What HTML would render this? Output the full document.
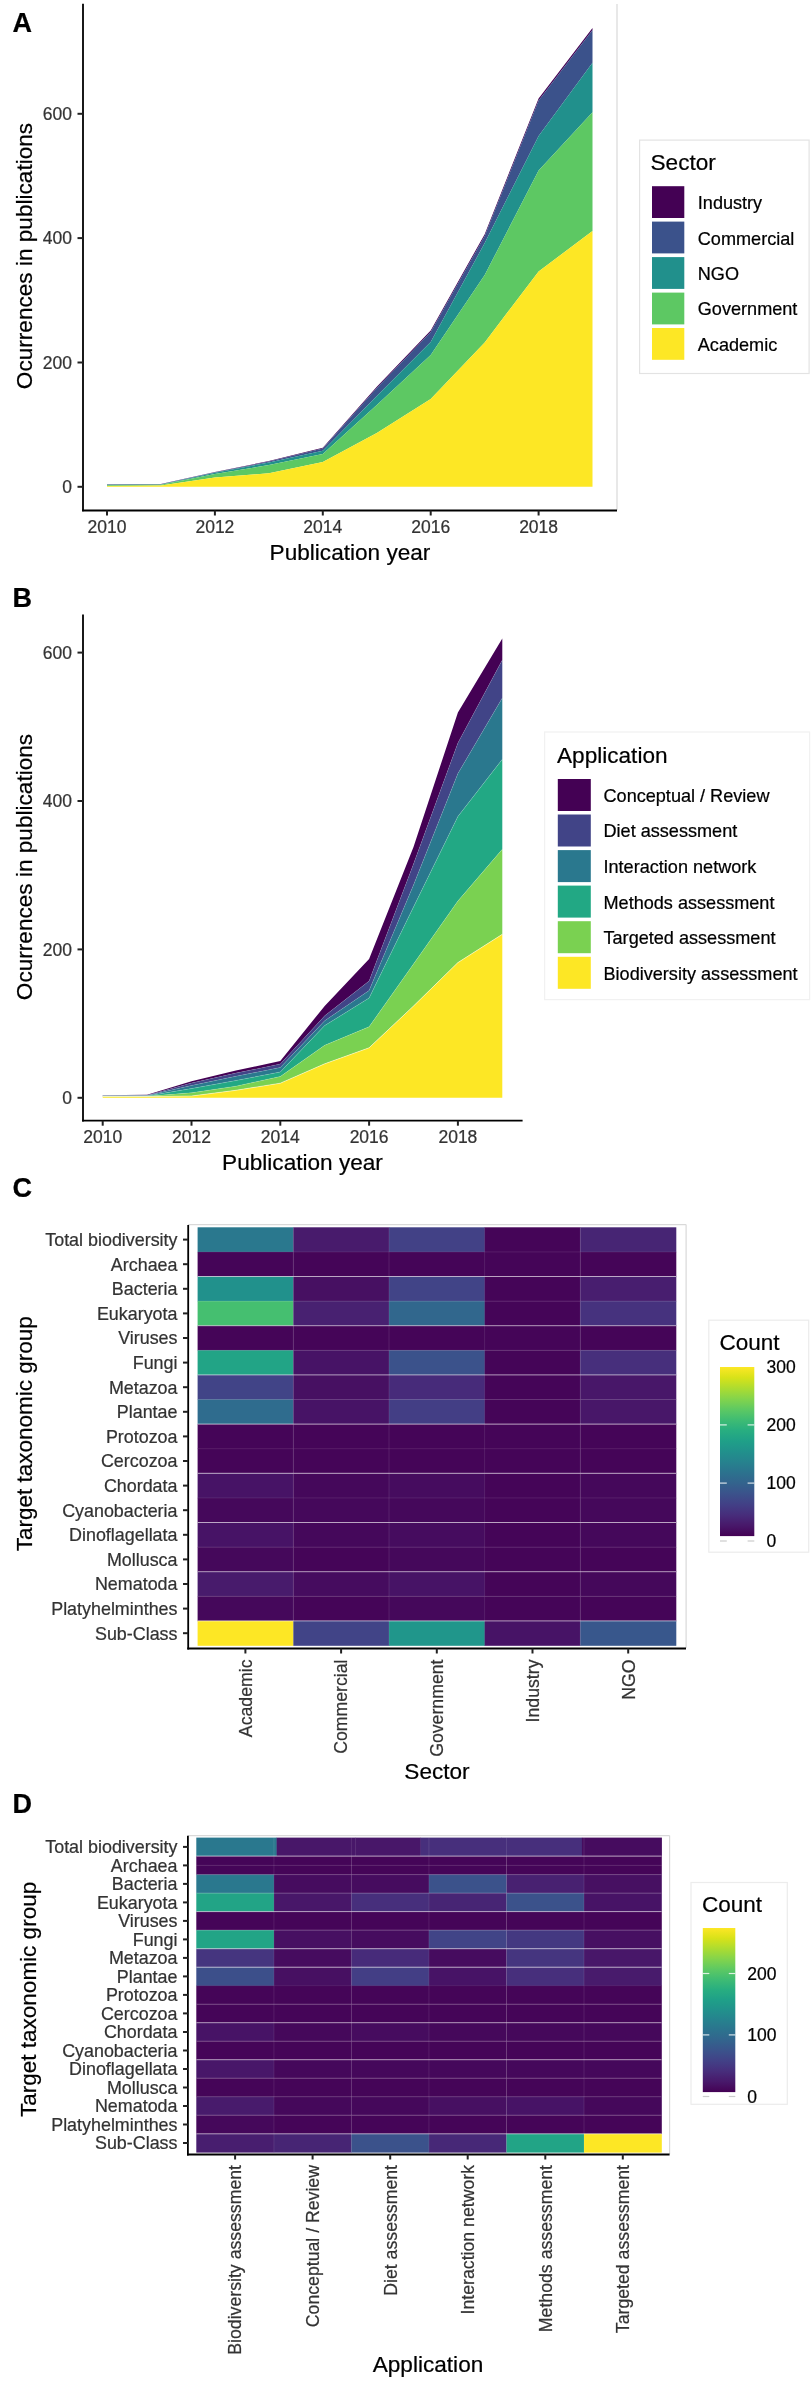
<!DOCTYPE html>
<html><head><meta charset="utf-8"><title>Figure</title>
<style>html,body{margin:0;padding:0;background:#fff;}svg{display:block;will-change:transform;}text{stroke-width:0.22px;}</style></head>
<body><svg width="812" height="2381" viewBox="0 0 812 2381" font-family="Liberation Sans, sans-serif">
<rect x="0" y="0" width="812" height="2381" fill="#fff"/>
<text x="12.5" y="32.3" font-size="27" font-weight="bold" fill="#000" stroke="#000">A</text>
<text x="12.5" y="606.6" font-size="27" font-weight="bold" fill="#000" stroke="#000">B</text>
<text x="12.5" y="1196.5" font-size="27" font-weight="bold" fill="#000" stroke="#000">C</text>
<text x="12.5" y="1813.2" font-size="27" font-weight="bold" fill="#000" stroke="#000">D</text>
<polygon points="107.0,484.2 160.9,484.0 214.9,472.0 268.9,461.0 322.8,447.8 376.8,386.8 430.7,330.4 484.7,234.2 538.6,98.6 592.5,27.9 592.5,30.0 538.6,100.5 484.7,236.0 430.7,332.0 376.8,388.0 322.8,448.5 268.9,461.6 214.9,472.3 160.9,484.2 107.0,484.5" fill="#440154" />
<polygon points="107.0,484.5 160.9,484.2 214.9,472.3 268.9,461.6 322.8,448.5 376.8,388.0 430.7,332.0 484.7,236.0 538.6,100.5 592.5,30.0 592.5,62.8 538.6,136.0 484.7,243.0 430.7,342.0 376.8,396.0 322.8,450.7 268.9,462.5 214.9,472.8 160.9,484.5 107.0,484.8" fill="#3b528b" />
<polygon points="107.0,484.8 160.9,484.5 214.9,472.8 268.9,462.5 322.8,450.7 376.8,396.0 430.7,342.0 484.7,243.0 538.6,136.0 592.5,62.8 592.5,112.2 538.6,170.5 484.7,275.0 430.7,355.0 376.8,405.0 322.8,454.0 268.9,465.0 214.9,474.0 160.9,484.8 107.0,485.2" fill="#21908c" />
<polygon points="107.0,485.2 160.9,484.8 214.9,474.0 268.9,465.0 322.8,454.0 376.8,405.0 430.7,355.0 484.7,275.0 538.6,170.5 592.5,112.2 592.5,231.0 538.6,271.5 484.7,342.4 430.7,399.0 376.8,433.0 322.8,462.0 268.9,473.2 214.9,477.6 160.9,485.6 107.0,486.0" fill="#5dc863" />
<polygon points="107.0,486.0 160.9,485.6 214.9,477.6 268.9,473.2 322.8,462.0 376.8,433.0 430.7,399.0 484.7,342.4 538.6,271.5 592.5,231.0 592.5,486.8 107.0,486.8" fill="#fde725" />
<line x1="617" y1="4" x2="617" y2="510" stroke="#d9d9d9" stroke-width="1.2"/>
<line x1="83" y1="3.7" x2="83" y2="511.3" stroke="#000" stroke-width="1.8"/>
<line x1="82.1" y1="510.5" x2="617" y2="510.5" stroke="#000" stroke-width="1.8"/>
<line x1="77.5" y1="486.8" x2="83" y2="486.8" stroke="#222222" stroke-width="2"/>
<text x="72" y="492.9" font-size="17.5" fill="#333333" stroke="#333333" text-anchor="end">0</text>
<line x1="77.5" y1="362.5" x2="83" y2="362.5" stroke="#222222" stroke-width="2"/>
<text x="72" y="368.6" font-size="17.5" fill="#333333" stroke="#333333" text-anchor="end">200</text>
<line x1="77.5" y1="238.1" x2="83" y2="238.1" stroke="#222222" stroke-width="2"/>
<text x="72" y="244.2" font-size="17.5" fill="#333333" stroke="#333333" text-anchor="end">400</text>
<line x1="77.5" y1="113.8" x2="83" y2="113.8" stroke="#222222" stroke-width="2"/>
<text x="72" y="119.9" font-size="17.5" fill="#333333" stroke="#333333" text-anchor="end">600</text>
<line x1="107.0" y1="510.5" x2="107.0" y2="515.5" stroke="#222222" stroke-width="2"/>
<text x="107.0" y="533.3" font-size="17.5" fill="#333333" stroke="#333333" text-anchor="middle">2010</text>
<line x1="214.9" y1="510.5" x2="214.9" y2="515.5" stroke="#222222" stroke-width="2"/>
<text x="214.9" y="533.3" font-size="17.5" fill="#333333" stroke="#333333" text-anchor="middle">2012</text>
<line x1="322.8" y1="510.5" x2="322.8" y2="515.5" stroke="#222222" stroke-width="2"/>
<text x="322.8" y="533.3" font-size="17.5" fill="#333333" stroke="#333333" text-anchor="middle">2014</text>
<line x1="430.7" y1="510.5" x2="430.7" y2="515.5" stroke="#222222" stroke-width="2"/>
<text x="430.7" y="533.3" font-size="17.5" fill="#333333" stroke="#333333" text-anchor="middle">2016</text>
<line x1="538.6" y1="510.5" x2="538.6" y2="515.5" stroke="#222222" stroke-width="2"/>
<text x="538.6" y="533.3" font-size="17.5" fill="#333333" stroke="#333333" text-anchor="middle">2018</text>
<text x="350" y="560" font-size="22.6" fill="#000" stroke="#000" text-anchor="middle">Publication year</text>
<text transform="translate(31.9,256) rotate(-90)" x="0" y="0" font-size="22.6" fill="#000" stroke="#000" text-anchor="middle">Ocurrences in publications</text>
<rect x="639.6" y="140.1" width="169.5" height="233.4" fill="#fff" stroke="#e3e3e3" stroke-width="1.2"/>
<text x="650.5" y="170.4" font-size="22.6" fill="#000" stroke="#000">Sector</text>
<rect x="652" y="186.2" width="32.3" height="31.8" fill="#440154"/>
<text x="697.8" y="209.1" font-size="18.1" fill="#000" stroke="#000">Industry</text>
<rect x="652" y="221.6" width="32.3" height="31.8" fill="#3b528b"/>
<text x="697.8" y="244.5" font-size="18.1" fill="#000" stroke="#000">Commercial</text>
<rect x="652" y="257.1" width="32.3" height="31.8" fill="#21908c"/>
<text x="697.8" y="280.0" font-size="18.1" fill="#000" stroke="#000">NGO</text>
<rect x="652" y="292.6" width="32.3" height="31.8" fill="#5dc863"/>
<text x="697.8" y="315.4" font-size="18.1" fill="#000" stroke="#000">Government</text>
<rect x="652" y="328.0" width="32.3" height="31.8" fill="#fde725"/>
<text x="697.8" y="350.9" font-size="18.1" fill="#000" stroke="#000">Academic</text>
<polygon points="102.7,1095.3 147.1,1094.8 191.5,1081.2 235.9,1070.6 280.3,1061.0 324.7,1005.9 369.1,959.0 413.5,847.0 457.9,712.5 502.3,638.4 502.3,660.0 457.9,742.9 413.5,864.0 369.1,981.0 324.7,1015.8 280.3,1064.0 235.9,1073.1 191.5,1083.0 147.1,1095.3 102.7,1095.6" fill="#440154" />
<polygon points="102.7,1095.6 147.1,1095.3 191.5,1083.0 235.9,1073.1 280.3,1064.0 324.7,1015.8 369.1,981.0 413.5,864.0 457.9,742.9 502.3,660.0 502.3,697.9 457.9,773.6 413.5,885.0 369.1,990.6 324.7,1020.7 280.3,1067.5 235.9,1076.3 191.5,1085.4 147.1,1095.6 102.7,1095.8" fill="#414487" />
<polygon points="102.7,1095.8 147.1,1095.6 191.5,1085.4 235.9,1076.3 280.3,1067.5 324.7,1020.7 369.1,990.6 413.5,885.0 457.9,773.6 502.3,697.9 502.3,759.3 457.9,816.4 413.5,907.0 369.1,998.0 324.7,1025.6 280.3,1072.0 235.9,1080.5 191.5,1088.6 147.1,1095.9 102.7,1096.0" fill="#2a788e" />
<polygon points="102.7,1096.0 147.1,1095.9 191.5,1088.6 235.9,1080.5 280.3,1072.0 324.7,1025.6 369.1,998.0 413.5,907.0 457.9,816.4 502.3,759.3 502.3,849.3 457.9,901.0 413.5,964.0 369.1,1026.8 324.7,1045.3 280.3,1076.5 235.9,1086.2 191.5,1092.8 147.1,1096.2 102.7,1096.2" fill="#22a884" />
<polygon points="102.7,1096.2 147.1,1096.2 191.5,1092.8 235.9,1086.2 280.3,1076.5 324.7,1045.3 369.1,1026.8 413.5,964.0 457.9,901.0 502.3,849.3 502.3,934.3 457.9,962.6 413.5,1006.0 369.1,1047.8 324.7,1063.8 280.3,1083.2 235.9,1090.3 191.5,1096.0 147.1,1096.5 102.7,1096.5" fill="#7ad151" />
<polygon points="102.7,1096.5 147.1,1096.5 191.5,1096.0 235.9,1090.3 280.3,1083.2 324.7,1063.8 369.1,1047.8 413.5,1006.0 457.9,962.6 502.3,934.3 502.3,1097.8 102.7,1097.8" fill="#fde725" />
<polyline points="102.7,1095.6 147.1,1095.3 191.5,1083.0 235.9,1073.1 280.3,1064.0 324.7,1015.8 369.1,981.0 413.5,864.0 457.9,742.9 502.3,660.0" fill="none" stroke="#ffffff" stroke-opacity="0.12" stroke-width="0.8"/>
<polyline points="102.7,1095.8 147.1,1095.6 191.5,1085.4 235.9,1076.3 280.3,1067.5 324.7,1020.7 369.1,990.6 413.5,885.0 457.9,773.6 502.3,697.9" fill="none" stroke="#ffffff" stroke-opacity="0.15" stroke-width="0.8"/>
<polyline points="102.7,1096.0 147.1,1095.9 191.5,1088.6 235.9,1080.5 280.3,1072.0 324.7,1025.6 369.1,998.0 413.5,907.0 457.9,816.4 502.3,759.3" fill="none" stroke="#ffffff" stroke-opacity="0.2" stroke-width="0.8"/>
<polyline points="102.7,1096.2 147.1,1096.2 191.5,1092.8 235.9,1086.2 280.3,1076.5 324.7,1045.3 369.1,1026.8 413.5,964.0 457.9,901.0 502.3,849.3" fill="none" stroke="#ffffff" stroke-opacity="0.2" stroke-width="0.8"/>
<polyline points="102.7,1096.5 147.1,1096.5 191.5,1096.0 235.9,1090.3 280.3,1083.2 324.7,1063.8 369.1,1047.8 413.5,1006.0 457.9,962.6 502.3,934.3" fill="none" stroke="#ffffff" stroke-opacity="0.6" stroke-width="0.8"/>
<line x1="83" y1="614.5" x2="83" y2="1121.6" stroke="#000" stroke-width="1.8"/>
<line x1="82.1" y1="1120.7" x2="522.6" y2="1120.7" stroke="#000" stroke-width="1.8"/>
<line x1="77.5" y1="1097.8" x2="83" y2="1097.8" stroke="#222222" stroke-width="2"/>
<text x="72" y="1103.9" font-size="17.5" fill="#333333" stroke="#333333" text-anchor="end">0</text>
<line x1="77.5" y1="949.4" x2="83" y2="949.4" stroke="#222222" stroke-width="2"/>
<text x="72" y="955.5" font-size="17.5" fill="#333333" stroke="#333333" text-anchor="end">200</text>
<line x1="77.5" y1="801.0" x2="83" y2="801.0" stroke="#222222" stroke-width="2"/>
<text x="72" y="807.1" font-size="17.5" fill="#333333" stroke="#333333" text-anchor="end">400</text>
<line x1="77.5" y1="652.6" x2="83" y2="652.6" stroke="#222222" stroke-width="2"/>
<text x="72" y="658.7" font-size="17.5" fill="#333333" stroke="#333333" text-anchor="end">600</text>
<line x1="102.7" y1="1120.7" x2="102.7" y2="1125.7" stroke="#222222" stroke-width="2"/>
<text x="102.7" y="1143.4" font-size="17.5" fill="#333333" stroke="#333333" text-anchor="middle">2010</text>
<line x1="191.5" y1="1120.7" x2="191.5" y2="1125.7" stroke="#222222" stroke-width="2"/>
<text x="191.5" y="1143.4" font-size="17.5" fill="#333333" stroke="#333333" text-anchor="middle">2012</text>
<line x1="280.3" y1="1120.7" x2="280.3" y2="1125.7" stroke="#222222" stroke-width="2"/>
<text x="280.3" y="1143.4" font-size="17.5" fill="#333333" stroke="#333333" text-anchor="middle">2014</text>
<line x1="369.1" y1="1120.7" x2="369.1" y2="1125.7" stroke="#222222" stroke-width="2"/>
<text x="369.1" y="1143.4" font-size="17.5" fill="#333333" stroke="#333333" text-anchor="middle">2016</text>
<line x1="457.9" y1="1120.7" x2="457.9" y2="1125.7" stroke="#222222" stroke-width="2"/>
<text x="457.9" y="1143.4" font-size="17.5" fill="#333333" stroke="#333333" text-anchor="middle">2018</text>
<text x="302.5" y="1170" font-size="22.6" fill="#000" stroke="#000" text-anchor="middle">Publication year</text>
<text transform="translate(31.9,867) rotate(-90)" x="0" y="0" font-size="22.6" fill="#000" stroke="#000" text-anchor="middle">Ocurrences in publications</text>
<rect x="544.6" y="732" width="265" height="267.6" fill="#fff" stroke="#f1f1f1" stroke-width="1.2"/>
<text x="557" y="763.4" font-size="22.6" fill="#000" stroke="#000">Application</text>
<rect x="557.8" y="779.0" width="33" height="32" fill="#440154"/>
<text x="603.5" y="801.9" font-size="18.1" fill="#000" stroke="#000">Conceptual / Review</text>
<rect x="557.8" y="814.5" width="33" height="32" fill="#414487"/>
<text x="603.5" y="837.4" font-size="18.1" fill="#000" stroke="#000">Diet assessment</text>
<rect x="557.8" y="850.1" width="33" height="32" fill="#2a788e"/>
<text x="603.5" y="873.0" font-size="18.1" fill="#000" stroke="#000">Interaction network</text>
<rect x="557.8" y="885.6" width="33" height="32" fill="#22a884"/>
<text x="603.5" y="908.5" font-size="18.1" fill="#000" stroke="#000">Methods assessment</text>
<rect x="557.8" y="921.2" width="33" height="32" fill="#7ad151"/>
<text x="603.5" y="944.1" font-size="18.1" fill="#000" stroke="#000">Targeted assessment</text>
<rect x="557.8" y="956.8" width="33" height="32" fill="#fde725"/>
<text x="603.5" y="979.6" font-size="18.1" fill="#000" stroke="#000">Biodiversity assessment</text>
<line x1="188" y1="1224.6" x2="686.1" y2="1224.6" stroke="#d9d9d9" stroke-width="1.2"/>
<line x1="686.1" y1="1224.6" x2="686.1" y2="1648" stroke="#d9d9d9" stroke-width="1.2"/>
<rect x="197.6" y="1227.3" width="96.0" height="24.9" fill="#2a788e"/>
<rect x="293.3" y="1227.3" width="96.0" height="24.9" fill="#481b6c"/>
<rect x="389.0" y="1227.3" width="96.0" height="24.9" fill="#424186"/>
<rect x="484.6" y="1227.3" width="96.0" height="24.9" fill="#450558"/>
<rect x="580.3" y="1227.3" width="96.0" height="24.9" fill="#472574"/>
<rect x="197.6" y="1251.9" width="96.0" height="24.9" fill="#450558"/>
<rect x="293.3" y="1251.9" width="96.0" height="24.9" fill="#450558"/>
<rect x="389.0" y="1251.9" width="96.0" height="24.9" fill="#450558"/>
<rect x="484.6" y="1251.9" width="96.0" height="24.9" fill="#450558"/>
<rect x="580.3" y="1251.9" width="96.0" height="24.9" fill="#450558"/>
<rect x="197.6" y="1276.5" width="96.0" height="24.9" fill="#21918c"/>
<rect x="293.3" y="1276.5" width="96.0" height="24.9" fill="#471062"/>
<rect x="389.0" y="1276.5" width="96.0" height="24.9" fill="#414487"/>
<rect x="484.6" y="1276.5" width="96.0" height="24.9" fill="#450558"/>
<rect x="580.3" y="1276.5" width="96.0" height="24.9" fill="#481e6f"/>
<rect x="197.6" y="1301.1" width="96.0" height="24.9" fill="#45bf70"/>
<rect x="293.3" y="1301.1" width="96.0" height="24.9" fill="#482171"/>
<rect x="389.0" y="1301.1" width="96.0" height="24.9" fill="#31678d"/>
<rect x="484.6" y="1301.1" width="96.0" height="24.9" fill="#450558"/>
<rect x="580.3" y="1301.1" width="96.0" height="24.9" fill="#46327e"/>
<rect x="197.6" y="1325.7" width="96.0" height="24.9" fill="#450558"/>
<rect x="293.3" y="1325.7" width="96.0" height="24.9" fill="#450558"/>
<rect x="389.0" y="1325.7" width="96.0" height="24.9" fill="#450558"/>
<rect x="484.6" y="1325.7" width="96.0" height="24.9" fill="#450558"/>
<rect x="580.3" y="1325.7" width="96.0" height="24.9" fill="#450558"/>
<rect x="197.6" y="1350.3" width="96.0" height="24.9" fill="#22a486"/>
<rect x="293.3" y="1350.3" width="96.0" height="24.9" fill="#471366"/>
<rect x="389.0" y="1350.3" width="96.0" height="24.9" fill="#3b528b"/>
<rect x="484.6" y="1350.3" width="96.0" height="24.9" fill="#450558"/>
<rect x="580.3" y="1350.3" width="96.0" height="24.9" fill="#472f7c"/>
<rect x="197.6" y="1374.9" width="96.0" height="24.9" fill="#414487"/>
<rect x="293.3" y="1374.9" width="96.0" height="24.9" fill="#471062"/>
<rect x="389.0" y="1374.9" width="96.0" height="24.9" fill="#472b7a"/>
<rect x="484.6" y="1374.9" width="96.0" height="24.9" fill="#450558"/>
<rect x="580.3" y="1374.9" width="96.0" height="24.9" fill="#481769"/>
<rect x="197.6" y="1399.5" width="96.0" height="24.9" fill="#2f6c8e"/>
<rect x="293.3" y="1399.5" width="96.0" height="24.9" fill="#471366"/>
<rect x="389.0" y="1399.5" width="96.0" height="24.9" fill="#433e85"/>
<rect x="484.6" y="1399.5" width="96.0" height="24.9" fill="#450558"/>
<rect x="580.3" y="1399.5" width="96.0" height="24.9" fill="#481769"/>
<rect x="197.6" y="1424.1" width="96.0" height="24.9" fill="#450558"/>
<rect x="293.3" y="1424.1" width="96.0" height="24.9" fill="#450558"/>
<rect x="389.0" y="1424.1" width="96.0" height="24.9" fill="#450558"/>
<rect x="484.6" y="1424.1" width="96.0" height="24.9" fill="#450558"/>
<rect x="580.3" y="1424.1" width="96.0" height="24.9" fill="#450558"/>
<rect x="197.6" y="1448.7" width="96.0" height="24.9" fill="#450558"/>
<rect x="293.3" y="1448.7" width="96.0" height="24.9" fill="#450558"/>
<rect x="389.0" y="1448.7" width="96.0" height="24.9" fill="#450558"/>
<rect x="484.6" y="1448.7" width="96.0" height="24.9" fill="#450558"/>
<rect x="580.3" y="1448.7" width="96.0" height="24.9" fill="#450558"/>
<rect x="197.6" y="1473.3" width="96.0" height="24.9" fill="#471366"/>
<rect x="293.3" y="1473.3" width="96.0" height="24.9" fill="#45085b"/>
<rect x="389.0" y="1473.3" width="96.0" height="24.9" fill="#460c5f"/>
<rect x="484.6" y="1473.3" width="96.0" height="24.9" fill="#450558"/>
<rect x="580.3" y="1473.3" width="96.0" height="24.9" fill="#45085b"/>
<rect x="197.6" y="1497.9" width="96.0" height="24.9" fill="#45085b"/>
<rect x="293.3" y="1497.9" width="96.0" height="24.9" fill="#45085b"/>
<rect x="389.0" y="1497.9" width="96.0" height="24.9" fill="#45085b"/>
<rect x="484.6" y="1497.9" width="96.0" height="24.9" fill="#450558"/>
<rect x="580.3" y="1497.9" width="96.0" height="24.9" fill="#45085b"/>
<rect x="197.6" y="1522.5" width="96.0" height="24.9" fill="#471366"/>
<rect x="293.3" y="1522.5" width="96.0" height="24.9" fill="#45085b"/>
<rect x="389.0" y="1522.5" width="96.0" height="24.9" fill="#460c5f"/>
<rect x="484.6" y="1522.5" width="96.0" height="24.9" fill="#450558"/>
<rect x="580.3" y="1522.5" width="96.0" height="24.9" fill="#45085b"/>
<rect x="197.6" y="1547.1" width="96.0" height="24.9" fill="#45085b"/>
<rect x="293.3" y="1547.1" width="96.0" height="24.9" fill="#450558"/>
<rect x="389.0" y="1547.1" width="96.0" height="24.9" fill="#45085b"/>
<rect x="484.6" y="1547.1" width="96.0" height="24.9" fill="#450558"/>
<rect x="580.3" y="1547.1" width="96.0" height="24.9" fill="#450558"/>
<rect x="197.6" y="1571.7" width="96.0" height="24.9" fill="#481b6c"/>
<rect x="293.3" y="1571.7" width="96.0" height="24.9" fill="#460c5f"/>
<rect x="389.0" y="1571.7" width="96.0" height="24.9" fill="#471366"/>
<rect x="484.6" y="1571.7" width="96.0" height="24.9" fill="#450558"/>
<rect x="580.3" y="1571.7" width="96.0" height="24.9" fill="#45085b"/>
<rect x="197.6" y="1596.3" width="96.0" height="24.9" fill="#45085b"/>
<rect x="293.3" y="1596.3" width="96.0" height="24.9" fill="#450558"/>
<rect x="389.0" y="1596.3" width="96.0" height="24.9" fill="#45085b"/>
<rect x="484.6" y="1596.3" width="96.0" height="24.9" fill="#450558"/>
<rect x="580.3" y="1596.3" width="96.0" height="24.9" fill="#450558"/>
<rect x="197.6" y="1620.9" width="96.0" height="24.9" fill="#fde725"/>
<rect x="293.3" y="1620.9" width="96.0" height="24.9" fill="#414487"/>
<rect x="389.0" y="1620.9" width="96.0" height="24.9" fill="#20968b"/>
<rect x="484.6" y="1620.9" width="96.0" height="24.9" fill="#471366"/>
<rect x="580.3" y="1620.9" width="96.0" height="24.9" fill="#38578c"/>
<line x1="197.6" y1="1251.9" x2="676.0" y2="1251.9" stroke="#fff" stroke-opacity="0.1" stroke-width="1"/>
<line x1="197.6" y1="1276.5" x2="676.0" y2="1276.5" stroke="#fff" stroke-opacity="0.6" stroke-width="1"/>
<line x1="197.6" y1="1301.1" x2="676.0" y2="1301.1" stroke="#fff" stroke-opacity="0.1" stroke-width="1"/>
<line x1="197.6" y1="1325.7" x2="676.0" y2="1325.7" stroke="#fff" stroke-opacity="0.6" stroke-width="1"/>
<line x1="197.6" y1="1350.3" x2="676.0" y2="1350.3" stroke="#fff" stroke-opacity="0.1" stroke-width="1"/>
<line x1="197.6" y1="1374.9" x2="676.0" y2="1374.9" stroke="#fff" stroke-opacity="0.6" stroke-width="1"/>
<line x1="197.6" y1="1399.5" x2="676.0" y2="1399.5" stroke="#fff" stroke-opacity="0.1" stroke-width="1"/>
<line x1="197.6" y1="1424.1" x2="676.0" y2="1424.1" stroke="#fff" stroke-opacity="0.6" stroke-width="1"/>
<line x1="197.6" y1="1448.7" x2="676.0" y2="1448.7" stroke="#fff" stroke-opacity="0.1" stroke-width="1"/>
<line x1="197.6" y1="1473.3" x2="676.0" y2="1473.3" stroke="#fff" stroke-opacity="0.6" stroke-width="1"/>
<line x1="197.6" y1="1497.9" x2="676.0" y2="1497.9" stroke="#fff" stroke-opacity="0.1" stroke-width="1"/>
<line x1="197.6" y1="1522.5" x2="676.0" y2="1522.5" stroke="#fff" stroke-opacity="0.6" stroke-width="1"/>
<line x1="197.6" y1="1547.1" x2="676.0" y2="1547.1" stroke="#fff" stroke-opacity="0.1" stroke-width="1"/>
<line x1="197.6" y1="1571.7" x2="676.0" y2="1571.7" stroke="#fff" stroke-opacity="0.6" stroke-width="1"/>
<line x1="197.6" y1="1596.3" x2="676.0" y2="1596.3" stroke="#fff" stroke-opacity="0.1" stroke-width="1"/>
<line x1="197.6" y1="1620.9" x2="676.0" y2="1620.9" stroke="#fff" stroke-opacity="0.6" stroke-width="1"/>
<line x1="293.3" y1="1227.3" x2="293.3" y2="1645.5" stroke="#fff" stroke-opacity="0.1" stroke-width="1"/>
<line x1="389.0" y1="1227.3" x2="389.0" y2="1645.5" stroke="#fff" stroke-opacity="0.1" stroke-width="1"/>
<line x1="484.6" y1="1227.3" x2="484.6" y2="1645.5" stroke="#fff" stroke-opacity="0.1" stroke-width="1"/>
<line x1="580.3" y1="1227.3" x2="580.3" y2="1645.5" stroke="#fff" stroke-opacity="0.1" stroke-width="1"/>
<line x1="188.2" y1="1225" x2="188.2" y2="1649.4" stroke="#000" stroke-width="1.8"/>
<line x1="187.3" y1="1648.5" x2="686" y2="1648.5" stroke="#000" stroke-width="1.8"/>
<line x1="183" y1="1239.6" x2="188.2" y2="1239.6" stroke="#222222" stroke-width="2"/>
<text x="177.5" y="1245.9" font-size="17.9" fill="#333333" stroke="#333333" text-anchor="end">Total biodiversity</text>
<line x1="183" y1="1264.2" x2="188.2" y2="1264.2" stroke="#222222" stroke-width="2"/>
<text x="177.5" y="1270.5" font-size="17.9" fill="#333333" stroke="#333333" text-anchor="end">Archaea</text>
<line x1="183" y1="1288.8" x2="188.2" y2="1288.8" stroke="#222222" stroke-width="2"/>
<text x="177.5" y="1295.1" font-size="17.9" fill="#333333" stroke="#333333" text-anchor="end">Bacteria</text>
<line x1="183" y1="1313.4" x2="188.2" y2="1313.4" stroke="#222222" stroke-width="2"/>
<text x="177.5" y="1319.7" font-size="17.9" fill="#333333" stroke="#333333" text-anchor="end">Eukaryota</text>
<line x1="183" y1="1338.0" x2="188.2" y2="1338.0" stroke="#222222" stroke-width="2"/>
<text x="177.5" y="1344.3" font-size="17.9" fill="#333333" stroke="#333333" text-anchor="end">Viruses</text>
<line x1="183" y1="1362.6" x2="188.2" y2="1362.6" stroke="#222222" stroke-width="2"/>
<text x="177.5" y="1368.9" font-size="17.9" fill="#333333" stroke="#333333" text-anchor="end">Fungi</text>
<line x1="183" y1="1387.2" x2="188.2" y2="1387.2" stroke="#222222" stroke-width="2"/>
<text x="177.5" y="1393.5" font-size="17.9" fill="#333333" stroke="#333333" text-anchor="end">Metazoa</text>
<line x1="183" y1="1411.8" x2="188.2" y2="1411.8" stroke="#222222" stroke-width="2"/>
<text x="177.5" y="1418.1" font-size="17.9" fill="#333333" stroke="#333333" text-anchor="end">Plantae</text>
<line x1="183" y1="1436.4" x2="188.2" y2="1436.4" stroke="#222222" stroke-width="2"/>
<text x="177.5" y="1442.7" font-size="17.9" fill="#333333" stroke="#333333" text-anchor="end">Protozoa</text>
<line x1="183" y1="1461.0" x2="188.2" y2="1461.0" stroke="#222222" stroke-width="2"/>
<text x="177.5" y="1467.3" font-size="17.9" fill="#333333" stroke="#333333" text-anchor="end">Cercozoa</text>
<line x1="183" y1="1485.6" x2="188.2" y2="1485.6" stroke="#222222" stroke-width="2"/>
<text x="177.5" y="1491.9" font-size="17.9" fill="#333333" stroke="#333333" text-anchor="end">Chordata</text>
<line x1="183" y1="1510.2" x2="188.2" y2="1510.2" stroke="#222222" stroke-width="2"/>
<text x="177.5" y="1516.5" font-size="17.9" fill="#333333" stroke="#333333" text-anchor="end">Cyanobacteria</text>
<line x1="183" y1="1534.8" x2="188.2" y2="1534.8" stroke="#222222" stroke-width="2"/>
<text x="177.5" y="1541.1" font-size="17.9" fill="#333333" stroke="#333333" text-anchor="end">Dinoflagellata</text>
<line x1="183" y1="1559.4" x2="188.2" y2="1559.4" stroke="#222222" stroke-width="2"/>
<text x="177.5" y="1565.7" font-size="17.9" fill="#333333" stroke="#333333" text-anchor="end">Mollusca</text>
<line x1="183" y1="1584.0" x2="188.2" y2="1584.0" stroke="#222222" stroke-width="2"/>
<text x="177.5" y="1590.3" font-size="17.9" fill="#333333" stroke="#333333" text-anchor="end">Nematoda</text>
<line x1="183" y1="1608.6" x2="188.2" y2="1608.6" stroke="#222222" stroke-width="2"/>
<text x="177.5" y="1614.9" font-size="17.9" fill="#333333" stroke="#333333" text-anchor="end">Platyhelminthes</text>
<line x1="183" y1="1633.2" x2="188.2" y2="1633.2" stroke="#222222" stroke-width="2"/>
<text x="177.5" y="1639.5" font-size="17.9" fill="#333333" stroke="#333333" text-anchor="end">Sub-Class</text>
<line x1="245.4" y1="1648.5" x2="245.4" y2="1653.5" stroke="#222222" stroke-width="2"/>
<text transform="translate(251.7,1659.5) rotate(-90)" x="0" y="0" font-size="17.7" fill="#333333" stroke="#333333" text-anchor="end">Academic</text>
<line x1="341.1" y1="1648.5" x2="341.1" y2="1653.5" stroke="#222222" stroke-width="2"/>
<text transform="translate(347.4,1659.5) rotate(-90)" x="0" y="0" font-size="17.7" fill="#333333" stroke="#333333" text-anchor="end">Commercial</text>
<line x1="436.8" y1="1648.5" x2="436.8" y2="1653.5" stroke="#222222" stroke-width="2"/>
<text transform="translate(443.1,1659.5) rotate(-90)" x="0" y="0" font-size="17.7" fill="#333333" stroke="#333333" text-anchor="end">Government</text>
<line x1="532.5" y1="1648.5" x2="532.5" y2="1653.5" stroke="#222222" stroke-width="2"/>
<text transform="translate(538.8,1659.5) rotate(-90)" x="0" y="0" font-size="17.7" fill="#333333" stroke="#333333" text-anchor="end">Industry</text>
<line x1="628.2" y1="1648.5" x2="628.2" y2="1653.5" stroke="#222222" stroke-width="2"/>
<text transform="translate(634.5,1659.5) rotate(-90)" x="0" y="0" font-size="17.7" fill="#333333" stroke="#333333" text-anchor="end">NGO</text>
<text x="437" y="1779.3" font-size="22.6" fill="#000" stroke="#000" text-anchor="middle">Sector</text>
<text transform="translate(31.7,1433.8) rotate(-90)" x="0" y="0" font-size="22.5" fill="#000" stroke="#000" text-anchor="middle">Target taxonomic group</text>
<defs><linearGradient id="vg" x1="0" y1="1" x2="0" y2="0"><stop offset="0.0000" stop-color="#440154"/><stop offset="0.0625" stop-color="#48186a"/><stop offset="0.1250" stop-color="#472d7b"/><stop offset="0.1875" stop-color="#424086"/><stop offset="0.2500" stop-color="#3b528b"/><stop offset="0.3125" stop-color="#33638d"/><stop offset="0.3750" stop-color="#2c728e"/><stop offset="0.4375" stop-color="#26828e"/><stop offset="0.5000" stop-color="#21918c"/><stop offset="0.5625" stop-color="#1fa088"/><stop offset="0.6250" stop-color="#28ae80"/><stop offset="0.6875" stop-color="#3fbc73"/><stop offset="0.7500" stop-color="#5ec962"/><stop offset="0.8125" stop-color="#84d44b"/><stop offset="0.8750" stop-color="#addc30"/><stop offset="0.9375" stop-color="#d8e219"/><stop offset="1.0000" stop-color="#fde725"/></linearGradient></defs>
<rect x="708.8" y="1320.2" width="99.9" height="232" fill="#fff" stroke="#ececec" stroke-width="1.2"/>
<text x="719.5" y="1350.3" font-size="22.5" fill="#000" stroke="#000">Count</text>
<rect x="720" y="1367" width="34.3" height="169.1" fill="url(#vg)"/>
<line x1="720" y1="1541" x2="726.8" y2="1541" stroke="#ccc" stroke-width="1.2"/>
<line x1="747.6" y1="1541" x2="754.3" y2="1541" stroke="#ccc" stroke-width="1.2"/>
<text x="766.5" y="1547.1" font-size="17.5" fill="#000" stroke="#000">0</text>
<line x1="720" y1="1483.1" x2="726.8" y2="1483.1" stroke="#fff" stroke-opacity="0.8" stroke-width="1.2"/>
<line x1="747.6" y1="1483.1" x2="754.3" y2="1483.1" stroke="#fff" stroke-opacity="0.8" stroke-width="1.2"/>
<text x="766.5" y="1489.2" font-size="17.5" fill="#000" stroke="#000">100</text>
<line x1="720" y1="1424.9" x2="726.8" y2="1424.9" stroke="#fff" stroke-opacity="0.8" stroke-width="1.2"/>
<line x1="747.6" y1="1424.9" x2="754.3" y2="1424.9" stroke="#fff" stroke-opacity="0.8" stroke-width="1.2"/>
<text x="766.5" y="1431.0" font-size="17.5" fill="#000" stroke="#000">200</text>
<text x="766.5" y="1372.9" font-size="17.5" fill="#000" stroke="#000">300</text>
<line x1="188" y1="1835.6" x2="669.6" y2="1835.6" stroke="#d9d9d9" stroke-width="1.2"/>
<line x1="669.6" y1="1835.6" x2="669.6" y2="2154" stroke="#d9d9d9" stroke-width="1.2"/>
<rect x="196.3" y="1837.6" width="80.6" height="18.8" fill="#2a788e"/>
<rect x="276.6" y="1837.6" width="79.2" height="18.8" fill="#481769"/>
<rect x="355.5" y="1837.6" width="65.4" height="18.8" fill="#481769"/>
<rect x="420.6" y="1837.6" width="80.7" height="18.8" fill="#472f7c"/>
<rect x="501.0" y="1837.6" width="81.2" height="18.8" fill="#472f7c"/>
<rect x="581.9" y="1837.6" width="80.0" height="18.8" fill="#460c5f"/>
<rect x="196.3" y="1856.1" width="77.8" height="18.8" fill="#450558"/>
<rect x="273.9" y="1856.1" width="77.8" height="18.8" fill="#450558"/>
<rect x="351.4" y="1856.1" width="77.8" height="18.8" fill="#450558"/>
<rect x="428.9" y="1856.1" width="77.8" height="18.8" fill="#450558"/>
<rect x="506.5" y="1856.1" width="77.8" height="18.8" fill="#450558"/>
<rect x="584.0" y="1856.1" width="77.8" height="18.8" fill="#450558"/>
<rect x="196.3" y="1874.6" width="77.8" height="18.8" fill="#2a788e"/>
<rect x="273.9" y="1874.6" width="77.8" height="18.8" fill="#460c5f"/>
<rect x="351.4" y="1874.6" width="77.8" height="18.8" fill="#460c5f"/>
<rect x="428.9" y="1874.6" width="77.8" height="18.8" fill="#3b528b"/>
<rect x="506.5" y="1874.6" width="77.8" height="18.8" fill="#482171"/>
<rect x="584.0" y="1874.6" width="77.8" height="18.8" fill="#471062"/>
<rect x="196.3" y="1893.1" width="77.8" height="18.8" fill="#22a486"/>
<rect x="273.9" y="1893.1" width="77.8" height="18.8" fill="#481769"/>
<rect x="351.4" y="1893.1" width="77.8" height="18.8" fill="#472f7c"/>
<rect x="428.9" y="1893.1" width="77.8" height="18.8" fill="#472574"/>
<rect x="506.5" y="1893.1" width="77.8" height="18.8" fill="#3b528b"/>
<rect x="584.0" y="1893.1" width="77.8" height="18.8" fill="#471366"/>
<rect x="196.3" y="1911.6" width="77.8" height="18.8" fill="#450558"/>
<rect x="273.9" y="1911.6" width="77.8" height="18.8" fill="#450558"/>
<rect x="351.4" y="1911.6" width="77.8" height="18.8" fill="#450558"/>
<rect x="428.9" y="1911.6" width="77.8" height="18.8" fill="#450558"/>
<rect x="506.5" y="1911.6" width="77.8" height="18.8" fill="#450558"/>
<rect x="584.0" y="1911.6" width="77.8" height="18.8" fill="#450558"/>
<rect x="196.3" y="1930.1" width="77.8" height="18.8" fill="#22a486"/>
<rect x="273.9" y="1930.1" width="77.8" height="18.8" fill="#471062"/>
<rect x="351.4" y="1930.1" width="77.8" height="18.8" fill="#460c5f"/>
<rect x="428.9" y="1930.1" width="77.8" height="18.8" fill="#414487"/>
<rect x="506.5" y="1930.1" width="77.8" height="18.8" fill="#443881"/>
<rect x="584.0" y="1930.1" width="77.8" height="18.8" fill="#471062"/>
<rect x="196.3" y="1948.7" width="77.8" height="18.8" fill="#45357f"/>
<rect x="273.9" y="1948.7" width="77.8" height="18.8" fill="#460c5f"/>
<rect x="351.4" y="1948.7" width="77.8" height="18.8" fill="#472b7a"/>
<rect x="428.9" y="1948.7" width="77.8" height="18.8" fill="#460c5f"/>
<rect x="506.5" y="1948.7" width="77.8" height="18.8" fill="#45357f"/>
<rect x="584.0" y="1948.7" width="77.8" height="18.8" fill="#481769"/>
<rect x="196.3" y="1967.2" width="77.8" height="18.8" fill="#3c4f8a"/>
<rect x="273.9" y="1967.2" width="77.8" height="18.8" fill="#471062"/>
<rect x="351.4" y="1967.2" width="77.8" height="18.8" fill="#433e85"/>
<rect x="428.9" y="1967.2" width="77.8" height="18.8" fill="#471366"/>
<rect x="506.5" y="1967.2" width="77.8" height="18.8" fill="#472f7c"/>
<rect x="584.0" y="1967.2" width="77.8" height="18.8" fill="#481b6c"/>
<rect x="196.3" y="1985.7" width="77.8" height="18.8" fill="#450558"/>
<rect x="273.9" y="1985.7" width="77.8" height="18.8" fill="#450558"/>
<rect x="351.4" y="1985.7" width="77.8" height="18.8" fill="#450558"/>
<rect x="428.9" y="1985.7" width="77.8" height="18.8" fill="#450558"/>
<rect x="506.5" y="1985.7" width="77.8" height="18.8" fill="#450558"/>
<rect x="584.0" y="1985.7" width="77.8" height="18.8" fill="#450558"/>
<rect x="196.3" y="2004.2" width="77.8" height="18.8" fill="#450558"/>
<rect x="273.9" y="2004.2" width="77.8" height="18.8" fill="#450558"/>
<rect x="351.4" y="2004.2" width="77.8" height="18.8" fill="#450558"/>
<rect x="428.9" y="2004.2" width="77.8" height="18.8" fill="#450558"/>
<rect x="506.5" y="2004.2" width="77.8" height="18.8" fill="#450558"/>
<rect x="584.0" y="2004.2" width="77.8" height="18.8" fill="#450558"/>
<rect x="196.3" y="2022.7" width="77.8" height="18.8" fill="#471366"/>
<rect x="273.9" y="2022.7" width="77.8" height="18.8" fill="#45085b"/>
<rect x="351.4" y="2022.7" width="77.8" height="18.8" fill="#460c5f"/>
<rect x="428.9" y="2022.7" width="77.8" height="18.8" fill="#45085b"/>
<rect x="506.5" y="2022.7" width="77.8" height="18.8" fill="#45085b"/>
<rect x="584.0" y="2022.7" width="77.8" height="18.8" fill="#45085b"/>
<rect x="196.3" y="2041.2" width="77.8" height="18.8" fill="#450558"/>
<rect x="273.9" y="2041.2" width="77.8" height="18.8" fill="#450558"/>
<rect x="351.4" y="2041.2" width="77.8" height="18.8" fill="#450558"/>
<rect x="428.9" y="2041.2" width="77.8" height="18.8" fill="#450558"/>
<rect x="506.5" y="2041.2" width="77.8" height="18.8" fill="#450558"/>
<rect x="584.0" y="2041.2" width="77.8" height="18.8" fill="#450558"/>
<rect x="196.3" y="2059.7" width="77.8" height="18.8" fill="#481769"/>
<rect x="273.9" y="2059.7" width="77.8" height="18.8" fill="#45085b"/>
<rect x="351.4" y="2059.7" width="77.8" height="18.8" fill="#45085b"/>
<rect x="428.9" y="2059.7" width="77.8" height="18.8" fill="#45085b"/>
<rect x="506.5" y="2059.7" width="77.8" height="18.8" fill="#45085b"/>
<rect x="584.0" y="2059.7" width="77.8" height="18.8" fill="#45085b"/>
<rect x="196.3" y="2078.2" width="77.8" height="18.8" fill="#450558"/>
<rect x="273.9" y="2078.2" width="77.8" height="18.8" fill="#450558"/>
<rect x="351.4" y="2078.2" width="77.8" height="18.8" fill="#450558"/>
<rect x="428.9" y="2078.2" width="77.8" height="18.8" fill="#450558"/>
<rect x="506.5" y="2078.2" width="77.8" height="18.8" fill="#450558"/>
<rect x="584.0" y="2078.2" width="77.8" height="18.8" fill="#450558"/>
<rect x="196.3" y="2096.7" width="77.8" height="18.8" fill="#481b6c"/>
<rect x="273.9" y="2096.7" width="77.8" height="18.8" fill="#45085b"/>
<rect x="351.4" y="2096.7" width="77.8" height="18.8" fill="#45085b"/>
<rect x="428.9" y="2096.7" width="77.8" height="18.8" fill="#471062"/>
<rect x="506.5" y="2096.7" width="77.8" height="18.8" fill="#471366"/>
<rect x="584.0" y="2096.7" width="77.8" height="18.8" fill="#45085b"/>
<rect x="196.3" y="2115.2" width="77.8" height="18.8" fill="#45085b"/>
<rect x="273.9" y="2115.2" width="77.8" height="18.8" fill="#450558"/>
<rect x="351.4" y="2115.2" width="77.8" height="18.8" fill="#450558"/>
<rect x="428.9" y="2115.2" width="77.8" height="18.8" fill="#450558"/>
<rect x="506.5" y="2115.2" width="77.8" height="18.8" fill="#450558"/>
<rect x="584.0" y="2115.2" width="77.8" height="18.8" fill="#450558"/>
<rect x="196.3" y="2133.8" width="77.8" height="18.8" fill="#481e6f"/>
<rect x="273.9" y="2133.8" width="77.8" height="18.8" fill="#472574"/>
<rect x="351.4" y="2133.8" width="77.8" height="18.8" fill="#3b528b"/>
<rect x="428.9" y="2133.8" width="77.8" height="18.8" fill="#472877"/>
<rect x="506.5" y="2133.8" width="77.8" height="18.8" fill="#22a486"/>
<rect x="584.0" y="2133.8" width="77.8" height="18.8" fill="#fde725"/>
<line x1="196.3" y1="1865.4" x2="661.6" y2="1865.4" stroke="#fff" stroke-opacity="0.15" stroke-width="1"/>
<line x1="196.3" y1="1856.1" x2="661.6" y2="1856.1" stroke="#fff" stroke-opacity="0.6" stroke-width="1"/>
<line x1="196.3" y1="1874.6" x2="661.6" y2="1874.6" stroke="#fff" stroke-opacity="0.22" stroke-width="1"/>
<line x1="196.3" y1="1893.1" x2="661.6" y2="1893.1" stroke="#fff" stroke-opacity="0.22" stroke-width="1"/>
<line x1="196.3" y1="1911.6" x2="661.6" y2="1911.6" stroke="#fff" stroke-opacity="0.6" stroke-width="1"/>
<line x1="196.3" y1="1930.1" x2="661.6" y2="1930.1" stroke="#fff" stroke-opacity="0.22" stroke-width="1"/>
<line x1="196.3" y1="1948.7" x2="661.6" y2="1948.7" stroke="#fff" stroke-opacity="0.6" stroke-width="1"/>
<line x1="196.3" y1="1967.2" x2="661.6" y2="1967.2" stroke="#fff" stroke-opacity="0.6" stroke-width="1"/>
<line x1="196.3" y1="1985.7" x2="661.6" y2="1985.7" stroke="#fff" stroke-opacity="0.08" stroke-width="1"/>
<line x1="196.3" y1="2004.2" x2="661.6" y2="2004.2" stroke="#fff" stroke-opacity="0.22" stroke-width="1"/>
<line x1="196.3" y1="2022.7" x2="661.6" y2="2022.7" stroke="#fff" stroke-opacity="0.6" stroke-width="1"/>
<line x1="196.3" y1="2041.2" x2="661.6" y2="2041.2" stroke="#fff" stroke-opacity="0.22" stroke-width="1"/>
<line x1="196.3" y1="2059.7" x2="661.6" y2="2059.7" stroke="#fff" stroke-opacity="0.6" stroke-width="1"/>
<line x1="196.3" y1="2078.2" x2="661.6" y2="2078.2" stroke="#fff" stroke-opacity="0.22" stroke-width="1"/>
<line x1="196.3" y1="2096.7" x2="661.6" y2="2096.7" stroke="#fff" stroke-opacity="0.22" stroke-width="1"/>
<line x1="196.3" y1="2115.2" x2="661.6" y2="2115.2" stroke="#fff" stroke-opacity="0.22" stroke-width="1"/>
<line x1="196.3" y1="2133.8" x2="661.6" y2="2133.8" stroke="#fff" stroke-opacity="0.6" stroke-width="1"/>
<line x1="273.9" y1="1837.6" x2="273.9" y2="2152.3" stroke="#fff" stroke-opacity="0.1" stroke-width="1"/>
<line x1="351.4" y1="1837.6" x2="351.4" y2="2152.3" stroke="#fff" stroke-opacity="0.1" stroke-width="1"/>
<line x1="428.9" y1="1837.6" x2="428.9" y2="2152.3" stroke="#fff" stroke-opacity="0.1" stroke-width="1"/>
<line x1="506.5" y1="1837.6" x2="506.5" y2="2152.3" stroke="#fff" stroke-opacity="0.1" stroke-width="1"/>
<line x1="584.0" y1="1837.6" x2="584.0" y2="2152.3" stroke="#fff" stroke-opacity="0.1" stroke-width="1"/>
<line x1="187.9" y1="1835.8" x2="187.9" y2="2155.4" stroke="#000" stroke-width="1.8"/>
<line x1="187" y1="2154.5" x2="669.6" y2="2154.5" stroke="#000" stroke-width="1.8"/>
<line x1="183" y1="1846.9" x2="187.9" y2="1846.9" stroke="#222222" stroke-width="2"/>
<text x="177.5" y="1853.2" font-size="17.9" fill="#333333" stroke="#333333" text-anchor="end">Total biodiversity</text>
<line x1="183" y1="1865.4" x2="187.9" y2="1865.4" stroke="#222222" stroke-width="2"/>
<text x="177.5" y="1871.7" font-size="17.9" fill="#333333" stroke="#333333" text-anchor="end">Archaea</text>
<line x1="183" y1="1883.9" x2="187.9" y2="1883.9" stroke="#222222" stroke-width="2"/>
<text x="177.5" y="1890.2" font-size="17.9" fill="#333333" stroke="#333333" text-anchor="end">Bacteria</text>
<line x1="183" y1="1902.4" x2="187.9" y2="1902.4" stroke="#222222" stroke-width="2"/>
<text x="177.5" y="1908.7" font-size="17.9" fill="#333333" stroke="#333333" text-anchor="end">Eukaryota</text>
<line x1="183" y1="1920.9" x2="187.9" y2="1920.9" stroke="#222222" stroke-width="2"/>
<text x="177.5" y="1927.2" font-size="17.9" fill="#333333" stroke="#333333" text-anchor="end">Viruses</text>
<line x1="183" y1="1939.4" x2="187.9" y2="1939.4" stroke="#222222" stroke-width="2"/>
<text x="177.5" y="1945.7" font-size="17.9" fill="#333333" stroke="#333333" text-anchor="end">Fungi</text>
<line x1="183" y1="1957.9" x2="187.9" y2="1957.9" stroke="#222222" stroke-width="2"/>
<text x="177.5" y="1964.2" font-size="17.9" fill="#333333" stroke="#333333" text-anchor="end">Metazoa</text>
<line x1="183" y1="1976.4" x2="187.9" y2="1976.4" stroke="#222222" stroke-width="2"/>
<text x="177.5" y="1982.7" font-size="17.9" fill="#333333" stroke="#333333" text-anchor="end">Plantae</text>
<line x1="183" y1="1994.9" x2="187.9" y2="1994.9" stroke="#222222" stroke-width="2"/>
<text x="177.5" y="2001.2" font-size="17.9" fill="#333333" stroke="#333333" text-anchor="end">Protozoa</text>
<line x1="183" y1="2013.4" x2="187.9" y2="2013.4" stroke="#222222" stroke-width="2"/>
<text x="177.5" y="2019.7" font-size="17.9" fill="#333333" stroke="#333333" text-anchor="end">Cercozoa</text>
<line x1="183" y1="2032.0" x2="187.9" y2="2032.0" stroke="#222222" stroke-width="2"/>
<text x="177.5" y="2038.3" font-size="17.9" fill="#333333" stroke="#333333" text-anchor="end">Chordata</text>
<line x1="183" y1="2050.5" x2="187.9" y2="2050.5" stroke="#222222" stroke-width="2"/>
<text x="177.5" y="2056.8" font-size="17.9" fill="#333333" stroke="#333333" text-anchor="end">Cyanobacteria</text>
<line x1="183" y1="2069.0" x2="187.9" y2="2069.0" stroke="#222222" stroke-width="2"/>
<text x="177.5" y="2075.3" font-size="17.9" fill="#333333" stroke="#333333" text-anchor="end">Dinoflagellata</text>
<line x1="183" y1="2087.5" x2="187.9" y2="2087.5" stroke="#222222" stroke-width="2"/>
<text x="177.5" y="2093.8" font-size="17.9" fill="#333333" stroke="#333333" text-anchor="end">Mollusca</text>
<line x1="183" y1="2106.0" x2="187.9" y2="2106.0" stroke="#222222" stroke-width="2"/>
<text x="177.5" y="2112.3" font-size="17.9" fill="#333333" stroke="#333333" text-anchor="end">Nematoda</text>
<line x1="183" y1="2124.5" x2="187.9" y2="2124.5" stroke="#222222" stroke-width="2"/>
<text x="177.5" y="2130.8" font-size="17.9" fill="#333333" stroke="#333333" text-anchor="end">Platyhelminthes</text>
<line x1="183" y1="2143.0" x2="187.9" y2="2143.0" stroke="#222222" stroke-width="2"/>
<text x="177.5" y="2149.3" font-size="17.9" fill="#333333" stroke="#333333" text-anchor="end">Sub-Class</text>
<line x1="235.1" y1="2154.5" x2="235.1" y2="2159.5" stroke="#222222" stroke-width="2"/>
<text transform="translate(241.4,2165) rotate(-90)" x="0" y="0" font-size="17.7" fill="#333333" stroke="#333333" text-anchor="end">Biodiversity assessment</text>
<line x1="312.6" y1="2154.5" x2="312.6" y2="2159.5" stroke="#222222" stroke-width="2"/>
<text transform="translate(318.9,2165) rotate(-90)" x="0" y="0" font-size="17.7" fill="#333333" stroke="#333333" text-anchor="end">Conceptual / Review</text>
<line x1="390.2" y1="2154.5" x2="390.2" y2="2159.5" stroke="#222222" stroke-width="2"/>
<text transform="translate(396.5,2165) rotate(-90)" x="0" y="0" font-size="17.7" fill="#333333" stroke="#333333" text-anchor="end">Diet assessment</text>
<line x1="467.7" y1="2154.5" x2="467.7" y2="2159.5" stroke="#222222" stroke-width="2"/>
<text transform="translate(474.0,2165) rotate(-90)" x="0" y="0" font-size="17.7" fill="#333333" stroke="#333333" text-anchor="end">Interaction network</text>
<line x1="545.3" y1="2154.5" x2="545.3" y2="2159.5" stroke="#222222" stroke-width="2"/>
<text transform="translate(551.6,2165) rotate(-90)" x="0" y="0" font-size="17.7" fill="#333333" stroke="#333333" text-anchor="end">Methods assessment</text>
<line x1="622.8" y1="2154.5" x2="622.8" y2="2159.5" stroke="#222222" stroke-width="2"/>
<text transform="translate(629.1,2165) rotate(-90)" x="0" y="0" font-size="17.7" fill="#333333" stroke="#333333" text-anchor="end">Targeted assessment</text>
<text x="428" y="2372" font-size="22.6" fill="#000" stroke="#000" text-anchor="middle">Application</text>
<text transform="translate(36.3,1999.4) rotate(-90)" x="0" y="0" font-size="22.5" fill="#000" stroke="#000" text-anchor="middle">Target taxonomic group</text>
<rect x="691" y="1882.5" width="96.3" height="221.8" fill="#fff" stroke="#ececec" stroke-width="1.2"/>
<text x="702" y="1911.5" font-size="22.5" fill="#000" stroke="#000">Count</text>
<rect x="702.8" y="1928" width="32.5" height="164.1" fill="url(#vg)"/>
<line x1="702.8" y1="2096.5" x2="709.3" y2="2096.5" stroke="#ccc" stroke-width="1.2"/>
<line x1="728.8" y1="2096.5" x2="735.3" y2="2096.5" stroke="#ccc" stroke-width="1.2"/>
<text x="747.3" y="2102.6" font-size="17.5" fill="#000" stroke="#000">0</text>
<line x1="702.8" y1="2034.9" x2="709.3" y2="2034.9" stroke="#fff" stroke-opacity="0.8" stroke-width="1.2"/>
<line x1="728.8" y1="2034.9" x2="735.3" y2="2034.9" stroke="#fff" stroke-opacity="0.8" stroke-width="1.2"/>
<text x="747.3" y="2041.0" font-size="17.5" fill="#000" stroke="#000">100</text>
<line x1="702.8" y1="1973.5" x2="709.3" y2="1973.5" stroke="#fff" stroke-opacity="0.8" stroke-width="1.2"/>
<line x1="728.8" y1="1973.5" x2="735.3" y2="1973.5" stroke="#fff" stroke-opacity="0.8" stroke-width="1.2"/>
<text x="747.3" y="1979.6" font-size="17.5" fill="#000" stroke="#000">200</text>
</svg></body></html>
